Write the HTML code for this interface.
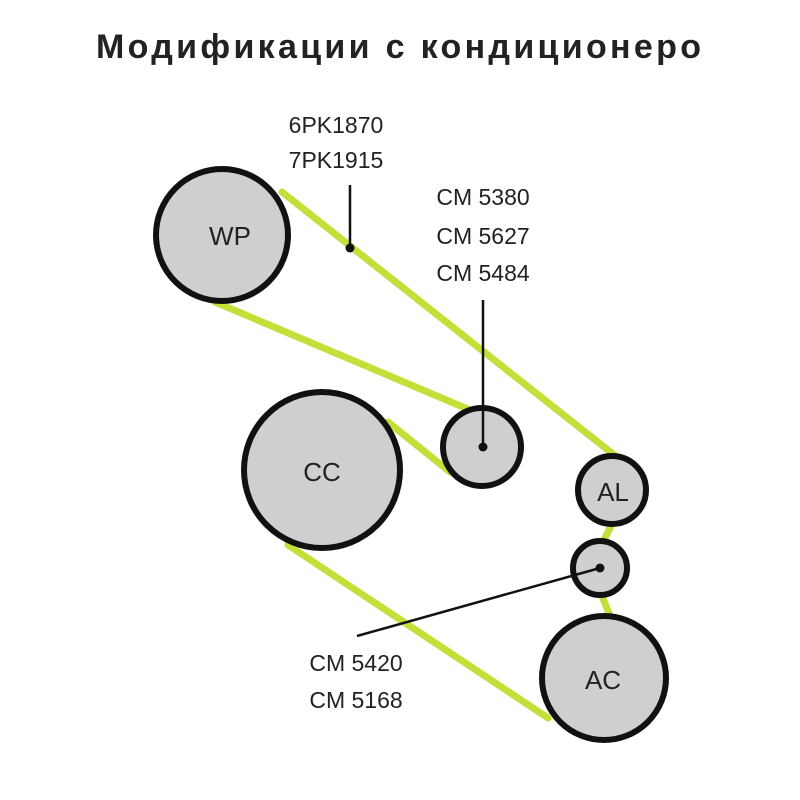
<!DOCTYPE html>
<html><head><meta charset="utf-8"><style>
html,body{margin:0;padding:0;background:#fff;}
svg{display:block;}
text{font-family:"Liberation Sans","DejaVu Sans",sans-serif;fill:#222;}
</style></head><body>
<svg width="800" height="800" viewBox="0 0 800 800" xmlns="http://www.w3.org/2000/svg">
<rect width="800" height="800" fill="#fff"/>
<text x="96" y="58" font-size="34" font-weight="bold" fill="#2a2a2a" textLength="605" lengthAdjust="spacing">Модификации с кондиционеро</text>
<g stroke="#c5df3a" stroke-width="7" stroke-linecap="round">
<line x1="282" y1="192" x2="618" y2="458"/>
<line x1="215" y1="302" x2="470" y2="410"/>
<line x1="388" y1="422" x2="450" y2="472"/>
<line x1="288" y1="545" x2="548" y2="718"/>
<line x1="612" y1="524" x2="604" y2="540"/>
<line x1="602" y1="596" x2="610" y2="616"/>
</g>
<g fill="#cfcfcf" stroke="#111" stroke-width="6">
<circle cx="222" cy="235" r="66"/>
<circle cx="322" cy="470" r="78"/>
<circle cx="482" cy="447" r="39"/>
<circle cx="612" cy="490" r="34"/>
<circle cx="600" cy="568" r="27"/>
<circle cx="604" cy="678" r="62"/>
</g>
<g stroke="#111" stroke-width="2.5">
<line x1="350" y1="185" x2="350" y2="248"/>
<line x1="483" y1="300" x2="483" y2="447"/>
<line x1="357" y1="636" x2="600" y2="568"/>
</g>
<g fill="#111">
<circle cx="350" cy="248" r="4.5"/>
<circle cx="483" cy="447" r="4.5"/>
<circle cx="600" cy="568" r="4.5"/>
</g>
<g font-size="26" text-anchor="middle">
<text x="230" y="245">WP</text>
<text x="322" y="481">CC</text>
<text x="613" y="501">AL</text>
<text x="603" y="689">AC</text>
</g>
<g font-size="23" text-anchor="middle">
<text x="336" y="133">6PK1870</text>
<text x="336" y="168">7PK1915</text>
<text x="483" y="205">CM 5380</text>
<text x="483" y="244">CM 5627</text>
<text x="483" y="281">CM 5484</text>
<text x="356" y="671">CM 5420</text>
<text x="356" y="708">CM 5168</text>
</g>
</svg>
</body></html>
